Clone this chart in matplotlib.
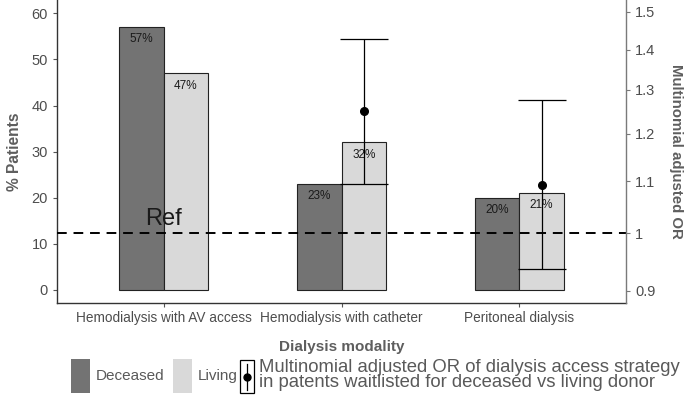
import numpy as np
import matplotlib
matplotlib.use("Agg")
import matplotlib.pyplot as plt
from matplotlib.patches import Patch, Rectangle
from matplotlib.lines import Line2D
from matplotlib.legend_handler import HandlerBase
from matplotlib.ticker import FixedLocator, FixedFormatter, NullLocator

plt.rcParams['font.family'] = ['Liberation Sans', 'DejaVu Sans']

# ---- data ----
categories = ["Hemodialysis with AV access", "Hemodialysis with catheter", "Peritoneal dialysis"]
deceased = [57, 23, 20]
living = [47, 32, 21]
or_cats = [1, 2]               # index into categories (catheter, peritoneal)
or_est = [1.25, 1.093]
or_low = [1.094, 0.936]
or_high = [1.428, 1.276]
or_ticks = [0.9, 1.0, 1.1, 1.2, 1.3, 1.4, 1.5]
or_tick_labels = ["0.9", "1", "1.1", "1.2", "1.3", "1.4", "1.5"]
pct_ticks = [0, 10, 20, 30, 40, 50, 60]
series_names = ["Deceased", "Living"]
or_legend_label = ("Multinomial adjusted OR of dialysis access strategy\n"
                   "in patents waitlisted for deceased vs living donor")

dark = "#737373"
light = "#d9d9d9"
txt = "#4d4d4d"
title_c = "#5e5e5e"

fig = plt.figure(figsize=(6.85, 4.05), dpi=100)
ax = fig.add_axes([57/685, 1 - 303/405, (626-57)/685, 303/405])

x = np.arange(1, len(categories) + 1)
w = 0.25
b1 = ax.bar(x - w/2, deceased, width=w, color=dark, edgecolor="#222222", linewidth=0.8)
b2 = ax.bar(x + w/2, living, width=w, color=light, edgecolor="#222222", linewidth=0.8)

for bars, vals in ((b1, deceased), (b2, living)):
    for r, v in zip(bars, vals):
        ax.annotate(f"{v}%", xy=(r.get_x() + r.get_width()/2, v), xytext=(0, -4.5),
                    textcoords="offset points", ha="center", va="top",
                    fontsize=8.5, color="#1a1a1a")

ax.set_xlim(0.4, 3.6)
ax.set_ylim(-2.84, 62.9)
ax.set_xticks(x)
ax.set_xticklabels(categories, fontsize=9.8, color=txt)
ax.yaxis.set_major_locator(FixedLocator(pct_ticks))
ax.tick_params(axis="y", labelsize=10.5, labelcolor=txt, color="#555555", length=3, width=0.8)
ax.tick_params(axis="x", color="#555555", length=3, width=0.8, pad=3)
ax.set_ylabel("% Patients", fontsize=11.2, fontweight="bold", color=title_c, labelpad=7)
ax.set_xlabel("Dialysis modality", fontsize=11, fontweight="bold", color=title_c, labelpad=10.5)
ax.spines["top"].set_visible(False)
ax.spines["right"].set_visible(False)
ax.spines["left"].set_color("#333333")
ax.spines["bottom"].set_color("#333333")
ax.spines["left"].set_linewidth(1.0)
ax.spines["bottom"].set_linewidth(1.0)

# secondary axis: log-scaled OR
ax2 = ax.twinx()
ax2.set_yscale("log")
ax2.set_ylim(0.880, 1.533)
ax2.yaxis.set_major_locator(FixedLocator(or_ticks))
ax2.yaxis.set_major_formatter(FixedFormatter(or_tick_labels))
ax2.yaxis.set_minor_locator(NullLocator())
ax2.tick_params(axis="y", labelsize=10.5, labelcolor=txt, color="#777777", length=3, width=0.8)
for s in ("top", "left", "bottom"):
    ax2.spines[s].set_visible(False)
ax2.spines["right"].set_color("#7a7a7a")
ax2.spines["right"].set_linewidth(1.0)
ax2.set_ylabel("Multinomial adjusted OR", fontsize=10.8, fontweight="bold", color=title_c,
               rotation=270, labelpad=20)

ax2.axhline(1.0, color="black", linestyle=(0, (5, 3.5)), linewidth=1.4, zorder=1)
ax2.annotate("Ref", xy=(x[0], 1.0), xytext=(0, 2), textcoords="offset points",
             ha="center", va="bottom", fontsize=17, color="#1a1a1a")

ex = [x[i] + w/2 for i in or_cats]
est = np.array(or_est)
yerr = np.vstack([est - np.array(or_low), np.array(or_high) - est])
ax2.errorbar(ex, est, yerr=yerr, fmt="o", color="black", ms=5.5, elinewidth=0.9,
             capsize=17.5, capthick=0.9, zorder=5)
ax2.set_xlim(0.4, 3.6)


class ORHandler(HandlerBase):
    def create_artists(self, legend, orig_handle, xdescent, ydescent, width, height,
                       fontsize, trans):
        x0 = -xdescent
        y0 = -ydescent
        rect = Rectangle((x0, y0), width, height, facecolor="white",
                         edgecolor="black", lw=0.9, transform=trans)
        cx = x0 + width / 2
        line = Line2D([cx, cx], [y0 + height*0.1, y0 + height*0.9], color="black",
                      lw=0.9, transform=trans)
        dot = Line2D([cx], [y0 + height/2], marker="o", ms=5, color="black",
                     linestyle="none", transform=trans)
        return [rect, line, dot]


class ORKey:
    pass


handles = [Patch(facecolor=dark, edgecolor="none"), Patch(facecolor=light, edgecolor="none")]
leg1 = fig.legend(handles, series_names, loc="center left", bbox_to_anchor=(71/685, 1 - 376/405),
                  ncol=2, frameon=False, fontsize=11, borderpad=0, borderaxespad=0,
                  handlelength=1.25, handleheight=2.95, handletextpad=0.35,
                  columnspacing=0.6)
for t in leg1.get_texts():
    t.set_color("#595959")

leg2 = fig.legend([ORKey()], [or_legend_label], loc="center left",
                  bbox_to_anchor=(240/685, 1 - 376/405),
                  frameon=False, fontsize=11, borderpad=0, borderaxespad=0,
                  handlelength=0.92, handleheight=2.95, handletextpad=0.3,
                  handler_map={ORKey: ORHandler()})
t2 = leg2.get_texts()[0]
t2.set_color("#595959")
t2.set_fontsize(13.3)
t2.set_linespacing(0.9)

fig.savefig("out.png", dpi=100)
